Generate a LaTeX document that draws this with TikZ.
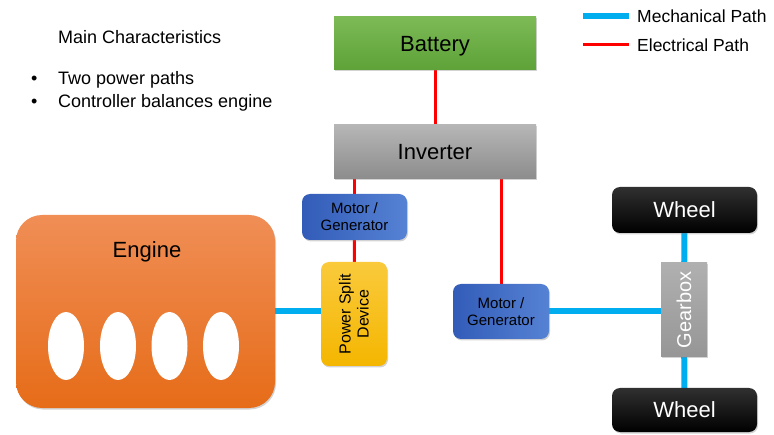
\documentclass[tikz,border=0pt]{standalone}
\usepackage{fontspec}
\setmainfont{Liberation Sans}
\usetikzlibrary{shadows,backgrounds,shapes.geometric}
\definecolor{mech}{RGB}{0,174,239}
\definecolor{elec}{RGB}{255,0,0}
\tikzset{
  box/.style={draw=none, inner sep=0pt, align=center, font=\fontsize{22}{24}\selectfont,
    drop shadow={opacity=0.35, shadow xshift=1pt, shadow yshift=-1.5pt}},
  mechline/.style={draw=mech, line width=6pt},
  elecline/.style={draw=elec, line width=3pt},
  lbl/.style={anchor=west, inner sep=0pt, font=\fontsize{18}{20}\selectfont},
  oval/.style={ellipse, fill=white, minimum width=36pt, minimum height=68pt, inner sep=0pt}
}
\begin{document}
\begin{tikzpicture}[x=1pt,y=1pt]
\useasboundingbox (0,0) rectangle (774,434);
% nodes
\node[box, top color={rgb,255:red,124;green,186;blue,86}, bottom color={rgb,255:red,94;green,162;blue,56},
  minimum width=202pt, minimum height=53pt, text depth=0pt] (bat) at (435,390.5) {Battery};
\node[box, top color={rgb,255:red,182;green,182;blue,182}, bottom color={rgb,255:red,140;green,140;blue,140},
  minimum width=202pt, minimum height=54pt] (inv) at (435,282) {Inverter};
\node[box, rounded corners=8pt, left color={rgb,255:red,50;green,92;blue,184}, right color={rgb,255:red,86;green,130;blue,212},
  minimum width=105pt, minimum height=46pt, font=\fontsize{15}{17}\selectfont] (mg1) at (354.5,217) {Motor /\\Generator};
\node[box, rounded corners=8pt, top color={rgb,255:red,250;green,202;blue,60}, bottom color={rgb,255:red,244;green,182;blue,0},
  minimum width=66pt, minimum height=104pt] (psd) at (354,120) {};
\node[rotate=90, align=center, inner sep=0pt, font=\fontsize{16}{18}\selectfont] (psdt) at (psd.center) {Power Split\\Device};
\node[box, rounded corners=26pt, top color={rgb,255:red,240;green,142;blue,86}, bottom color={rgb,255:red,230;green,108;blue,24},
  minimum width=259pt, minimum height=193pt] (eng) at (145.5,122.5) {};
\node[inner sep=0pt, font=\fontsize{22}{24}\selectfont] (engt) at (147,182) {Engine};
\node[oval] (c1) at (66,88) {};
\node[oval] (c2) at (118,88) {};
\node[oval] (c3) at (169.5,88) {};
\node[oval] (c4) at (221,88) {};
\node[box, rounded corners=8pt, left color={rgb,255:red,50;green,92;blue,184}, right color={rgb,255:red,86;green,130;blue,212},
  minimum width=96pt, minimum height=55pt, font=\fontsize{15}{17}\selectfont] (mg2) at (501,122.5) {Motor /\\Generator};
\node[box, top color={rgb,255:red,176;green,176;blue,176}, bottom color={rgb,255:red,150;green,150;blue,150},
  minimum width=46pt, minimum height=94pt] (gb) at (684,124) {};
\node[rotate=90, inner sep=0pt, text=white, font=\fontsize{20}{22}\selectfont] (gbt) at (gb.center) {Gearbox};
\node[box, rounded corners=8pt, top color={rgb,255:red,48;green,48;blue,48}, bottom color=black, text=white,
  minimum width=145pt, minimum height=46pt] (w1) at (684.5,224) {Wheel};
\node[box, rounded corners=8pt, top color={rgb,255:red,48;green,48;blue,48}, bottom color=black, text=white,
  minimum width=145pt, minimum height=44pt] (w2) at (684.5,24) {Wheel};
% text
\node[lbl] (title) at (58,397) {Main Characteristics};
\node[lbl] (b1) at (31,354) {•};
\node[lbl] (t1) at (58,354) {Two power paths};
\node[lbl] (b2) at (31,331) {•};
\node[lbl] (t2) at (58,331) {Controller balances engine};
% legend
\coordinate (lm1) at (583,418);
\coordinate (lm2) at (629,418);
\coordinate (le1) at (583,389);
\coordinate (le2) at (629,389);
\draw[mechline] (lm1) -- (lm2);
\draw[elecline] (le1) -- (le2);
\node[lbl, font=\fontsize{17.5}{19}\selectfont] (lmt) at (637,418) {Mechanical Path};
\node[lbl, font=\fontsize{17.5}{19}\selectfont] (let) at (637,389) {Electrical Path};
% connectors
\begin{scope}[on background layer]
\draw[elecline] (bat) -- (inv);
\draw[elecline] (mg1.north) -- (mg1.north |- inv.south);
\draw[elecline] (mg1) -- (psd);
\draw[elecline] (mg2.north) -- (mg2.north |- inv.south);
\draw[mechline] (eng.east) -- (eng.east -| psd.west);
\draw[mechline] (mg2.east) -- (mg2.east -| gb.west);
\draw[mechline] (w1) -- (gb);
\draw[mechline] (gb) -- (w2);
\end{scope}
\end{tikzpicture}
\end{document}
